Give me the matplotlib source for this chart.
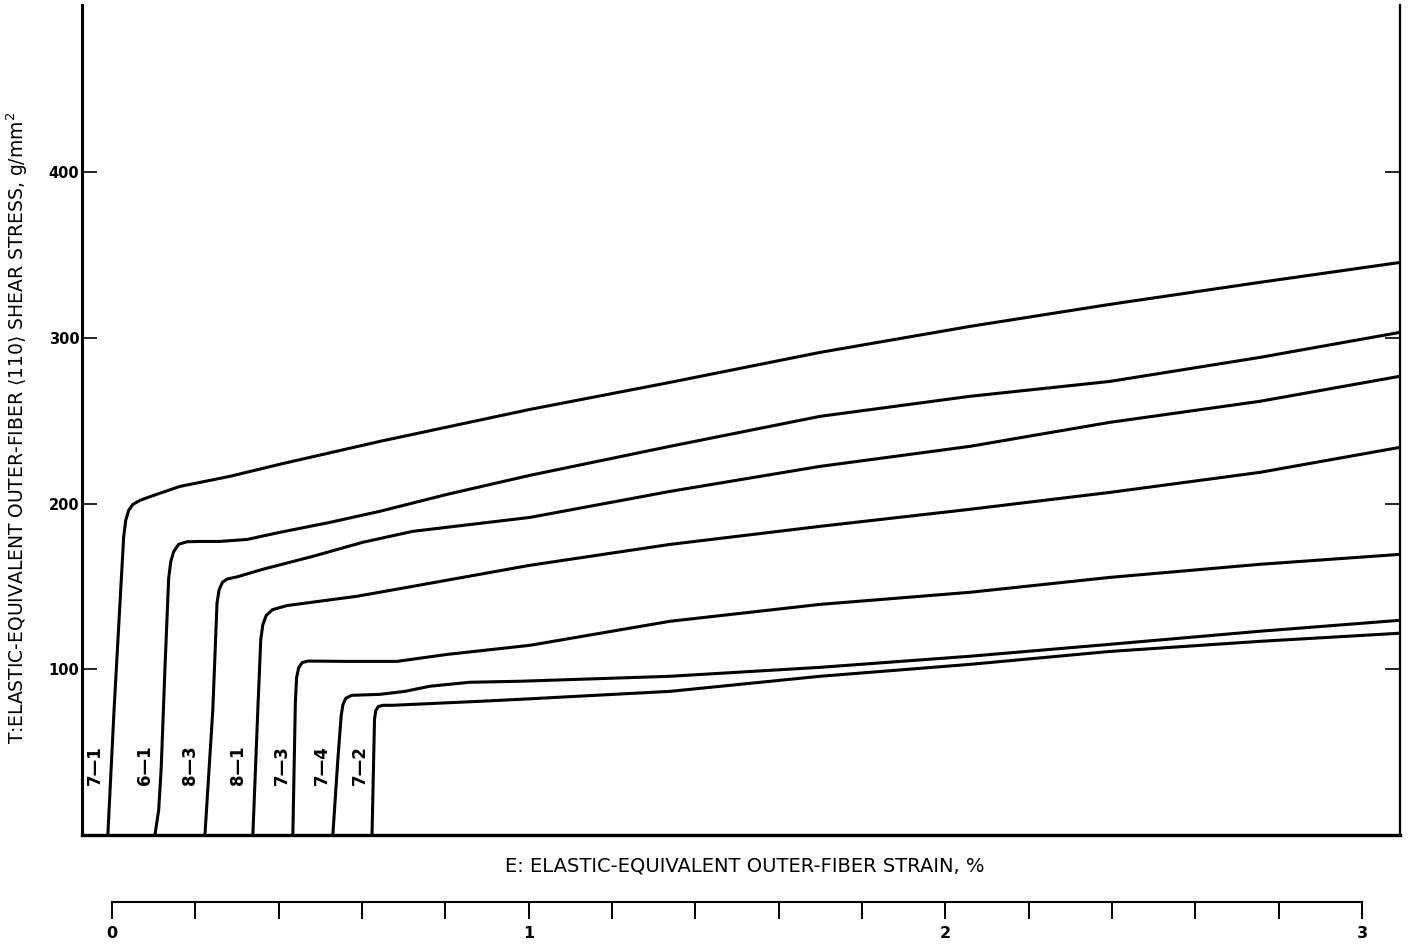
import numpy as np
import matplotlib
matplotlib.use('Agg')
from matplotlib import pyplot as plt

# curves: strain (%) and shear stress (g/mm^2)
strain_71 = [-0.010, 0.005, 0.028, 0.033, 0.040, 0.050, 0.067, 0.100, 0.163, 0.283, 0.403, 0.643, 1.003, 1.339, 1.699, 2.059, 2.395, 2.755, 3.091]
stress_71 = [0, 75.9, 180.0, 190.0, 196.0, 199.5, 202.0, 205.0, 210.4, 216.5, 223.8, 237.6, 256.9, 273.2, 291.3, 307.0, 320.3, 333.6, 345.6]

strain_61 = [0.103, 0.112, 0.118, 0.127, 0.136, 0.141, 0.148, 0.160, 0.180, 0.211, 0.259, 0.324, 0.403, 0.523, 0.643, 0.804, 1.003, 1.339, 1.699, 2.059, 2.395, 2.755, 3.091]
stress_61 = [0, 15.0, 40.0, 100.0, 155.0, 165.0, 171.0, 175.5, 177.0, 177.2, 177.2, 178.4, 182.7, 188.7, 195.4, 205.6, 217.1, 234.6, 252.7, 264.8, 273.8, 288.3, 303.4]

strain_83 = [0.223, 0.242, 0.252, 0.257, 0.265, 0.276, 0.300, 0.362, 0.482, 0.602, 0.722, 1.003, 1.339, 1.699, 2.059, 2.395, 2.755, 3.091]
stress_83 = [0, 75.9, 140.0, 148.0, 152.5, 154.5, 155.8, 160.4, 168.2, 176.7, 183.3, 191.7, 207.4, 222.5, 234.6, 249.1, 261.8, 276.9]

strain_81 = [0.338, 0.350, 0.357, 0.362, 0.370, 0.385, 0.420, 0.588, 0.722, 1.003, 1.339, 1.699, 2.059, 2.395, 2.755, 3.091]
stress_81 = [0, 75.9, 118.0, 127.0, 132.5, 136.0, 138.5, 144.1, 150.1, 162.8, 175.4, 186.3, 196.6, 206.8, 218.9, 234.0]

strain_73 = [0.434, 0.440, 0.443, 0.448, 0.456, 0.470, 0.564, 0.684, 0.804, 1.003, 1.339, 1.699, 2.059, 2.395, 2.755, 3.091]
stress_73 = [0, 80.0, 95.0, 101.0, 104.0, 105.0, 104.8, 104.8, 109.0, 114.5, 129.0, 139.2, 146.5, 155.5, 163.4, 169.4]

strain_74 = [0.530, 0.542, 0.550, 0.554, 0.561, 0.575, 0.643, 0.703, 0.763, 0.859, 0.979, 1.339, 1.699, 2.059, 2.395, 2.755, 3.091]
stress_74 = [0, 45.7, 72.0, 78.5, 82.5, 84.3, 84.9, 86.7, 89.8, 92.2, 92.8, 95.8, 101.2, 107.9, 115.1, 123.0, 129.6]

strain_72 = [0.624, 0.630, 0.633, 0.639, 0.650, 0.674, 0.883, 0.979, 1.339, 1.699, 2.059, 2.395, 2.755, 3.091]
stress_72 = [0, 70.0, 75.0, 77.5, 78.3, 78.3, 80.7, 81.9, 86.7, 95.8, 103.0, 110.8, 116.9, 121.8]

specimens = ['7—1', '6—1', '8—3', '8—1', '7—3', '7—4', '7—2']
label_x = [-0.041, 0.079, 0.187, 0.302, 0.408, 0.504, 0.595]
label_y = 42

curves = [(strain_71, stress_71), (strain_61, stress_61), (strain_83, stress_83),
          (strain_81, stress_81), (strain_73, stress_73), (strain_74, stress_74),
          (strain_72, stress_72)]

W, H = 1412, 944
fig = plt.figure(figsize=(W / 100, H / 100), dpi=100)
ax = fig.add_axes([82 / W, 109 / H, 1318 / W, 830 / H])

for (x, y), name, lx in zip(curves, specimens, label_x):
    ax.plot(x, y, color='black', lw=2.2, solid_joinstyle='round')
    ax.text(lx, label_y, name, rotation=90, ha='center', va='center',
            fontsize=12, fontweight='bold')

ax.set_xlim(-0.072, 3.091)
ax.set_ylim(0, 501)
ax.spines['top'].set_visible(False)
ax.spines['left'].set_linewidth(2.2)
ax.spines['bottom'].set_linewidth(2.4)
ax.spines['right'].set_linewidth(1.6)
ax.set_xticks([])
ax.set_yticks([100, 200, 300, 400])
ax.tick_params(axis='y', direction='in', length=11, width=1.2, right=True,
               labelsize=10.5, pad=2)
for lab in ax.get_yticklabels():
    lab.set_fontweight('bold')

fig.text(17 / W, 1 - 428 / H,
         r'T:ELASTIC-EQUIVALENT OUTER-FIBER $\langle$110$\rangle$ SHEAR STRESS, g/mm$^2$',
         rotation=90, ha='center', va='center', fontsize=13.5)
fig.text(745 / W, 1 - 866 / H, 'E: ELASTIC-EQUIVALENT OUTER-FIBER STRAIN, %',
         ha='center', va='center', fontsize=14)

# separate strain scale below the plot
ax2 = fig.add_axes([82 / W, 1 - 902 / H, 1318 / W, 0.0001])
ax2.set_xlim(ax.get_xlim())
ax2.patch.set_visible(False)
for s in ['top', 'left', 'right']:
    ax2.spines[s].set_visible(False)
ax2.spines['bottom'].set_bounds(0, 3)
ax2.spines['bottom'].set_linewidth(1.5)
ax2.set_yticks([])
ax2.set_xticks([0, 1, 2, 3])
ax2.set_xticks(np.arange(0, 3.01, 0.2), minor=True)
ax2.tick_params(axis='x', which='both', direction='out', length=12, width=1.4)
ax2.tick_params(axis='x', which='major', labelsize=11.5, pad=5)
for lab in ax2.get_xticklabels():
    lab.set_fontweight('bold')

fig.savefig('out.png', dpi=100)
